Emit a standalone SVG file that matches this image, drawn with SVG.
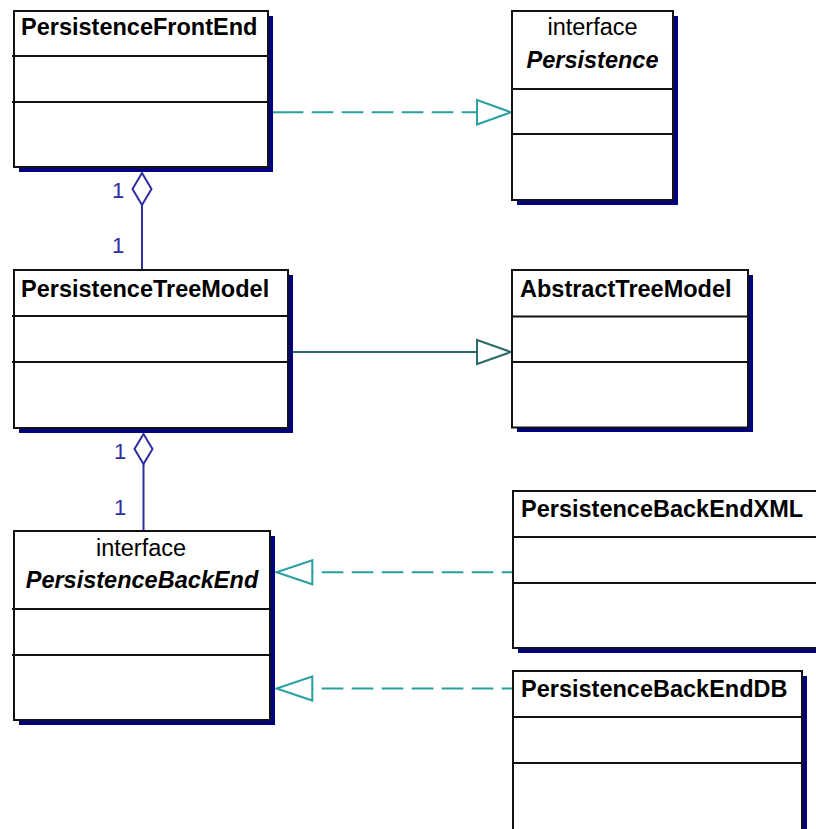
<svg xmlns="http://www.w3.org/2000/svg" width="816" height="829" viewBox="0 0 816 829">
  <style>
    .shadow { fill: #000080; }
    .box { fill: #ffffff; stroke: #111111; stroke-width: 2; }
    .div { stroke: #111111; stroke-width: 2; fill: none; }
    .title { font-family: "Liberation Sans", Arial, sans-serif; font-size: 23.5px; font-weight: bold; fill: #000000; }
    .stereo { font-family: "Liberation Sans", Arial, sans-serif; font-size: 23.5px; fill: #000000; text-anchor: middle; }
    .iname { font-family: "Liberation Sans", Arial, sans-serif; font-size: 23.5px; font-weight: bold; font-style: italic; fill: #000000; text-anchor: middle; }
    .real { stroke: #2aa0a0; stroke-width: 2; fill: none; stroke-dasharray: 21.7 8.3; }
    .realHead { stroke: #2aa0a0; stroke-width: 2; fill: #ffffff; }
    .gen { stroke: #2a6a6a; stroke-width: 2; fill: none; }
    .genHead { stroke: #2a6a6a; stroke-width: 2; fill: #ffffff; }
    .agg { stroke: #2e2ea0; stroke-width: 2; fill: none; }
    .aggHead { stroke: #2e2ea0; stroke-width: 2; fill: #ffffff; }
    .mult { font-family: "Liberation Sans", Arial, sans-serif; font-size: 22px; fill: #2e2ea0; }
  </style>

  <rect width="816" height="829" fill="#ffffff"/>

  <!-- connectors -->
  <g id="connectors">
    <!-- PersistenceFrontEnd realizes Persistence -->
    <path class="real" d="M273 112.3 H477" stroke-dashoffset="21.3"/>
    <path class="real" d="M273 112.3 H282" style="stroke-dasharray:none"/>
    <polygon class="realHead" points="477,100 511,112.3 477,124.5"/>

    <!-- PersistenceTreeModel extends AbstractTreeModel -->
    <path class="gen" d="M293 352 H477"/>
    <polygon class="genHead" points="477,340 511,352 477,364"/>

    <!-- PersistenceFrontEnd aggregates PersistenceTreeModel -->
    <path class="agg" d="M142 205 V270"/>
    <polygon class="aggHead" points="142,173 151.5,189 142,205 132.5,189"/>
    <text class="mult" x="112" y="198">1</text>
    <text class="mult" x="112" y="253">1</text>

    <!-- PersistenceTreeModel aggregates PersistenceBackEnd -->
    <path class="agg" d="M143.5 464 V531"/>
    <polygon class="aggHead" points="143.5,434 152.5,449 143.5,464 134.5,449"/>
    <text class="mult" x="114" y="459">1</text>
    <text class="mult" x="114" y="515">1</text>

    <!-- PersistenceBackEndXML realizes PersistenceBackEnd -->
    <path class="real" d="M312.3 572.3 H512" stroke-dashoffset="-9.4"/>
    <polygon class="realHead" points="312.3,560.3 276.5,572.3 312.3,584.3"/>

    <!-- PersistenceBackEndDB realizes PersistenceBackEnd -->
    <path class="real" d="M312.3 688.5 H512" stroke-dashoffset="-9.4"/>
    <polygon class="realHead" points="312.3,676.5 276.5,688.5 312.3,700.5"/>
  </g>

  <!-- PersistenceFrontEnd -->
  <g id="PersistenceFrontEnd">
    <rect class="shadow" x="19" y="16" width="254" height="156"/>
    <rect class="box" x="14" y="11" width="254" height="156"/>
    <path class="div" d="M12 56 H268 M12 102 H268"/>
    <text class="title" x="21" y="35">PersistenceFrontEnd</text>
  </g>

  <!-- Persistence (interface) -->
  <g id="Persistence">
    <rect class="shadow" x="517" y="16" width="161" height="189"/>
    <rect class="box" x="512" y="11" width="161" height="189"/>
    <path class="div" d="M512 89 H673 M512 134 H673"/>
    <text class="stereo" x="592.5" y="35">interface</text>
    <text class="iname" x="592.5" y="68">Persistence</text>
  </g>

  <!-- PersistenceTreeModel -->
  <g id="PersistenceTreeModel">
    <rect class="shadow" x="19" y="275" width="274" height="158"/>
    <rect class="box" x="14" y="270" width="274" height="158"/>
    <path class="div" d="M12 316 H288 M12 362 H288"/>
    <text class="title" x="21" y="296.5">PersistenceTreeModel</text>
  </g>

  <!-- AbstractTreeModel -->
  <g id="AbstractTreeModel">
    <rect class="shadow" x="517" y="275" width="236" height="157"/>
    <rect class="box" x="512" y="270" width="236" height="157.5"/>
    <path class="div" d="M512 316.5 H748 M512 362 H748"/>
    <text class="title" x="520" y="296.5">AbstractTreeModel</text>
  </g>

  <!-- PersistenceBackEnd (interface) -->
  <g id="PersistenceBackEnd">
    <rect class="shadow" x="19" y="536" width="256" height="189"/>
    <rect class="box" x="14" y="531" width="256" height="189"/>
    <path class="div" d="M12 609 H270 M12 655 H270"/>
    <text class="stereo" x="141" y="556">interface</text>
    <text class="iname" x="142" y="588">PersistenceBackEnd</text>
  </g>

  <!-- PersistenceBackEndXML -->
  <g id="PersistenceBackEndXML">
    <rect class="shadow" x="518" y="496" width="320" height="157"/>
    <rect class="box" x="513" y="491" width="320" height="157"/>
    <path class="div" d="M513 537 H833 M513 583 H833"/>
    <text class="title" x="521" y="516.5">PersistenceBackEndXML</text>
  </g>

  <!-- PersistenceBackEndDB -->
  <g id="PersistenceBackEndDB">
    <rect class="shadow" x="518" y="676" width="289" height="200"/>
    <rect class="box" x="513" y="671" width="289" height="200"/>
    <path class="div" d="M513 717 H802 M513 763 H802"/>
    <text class="title" x="521" y="696.5">PersistenceBackEndDB</text>
  </g>
</svg>
